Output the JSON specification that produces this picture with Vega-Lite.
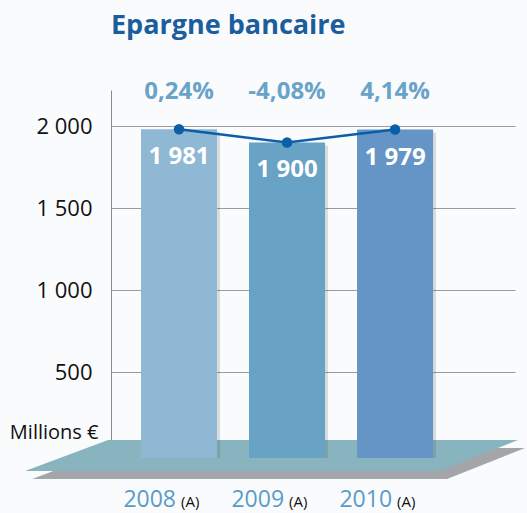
{
  "$schema": "https://vega.github.io/schema/vega-lite/v6.json",
  "width": 404,
  "height": 364,
  "autosize": {"type": "none"},
  "padding": {"left": 111, "top": 90, "right": 12, "bottom": 59},
  "background": "#fafbfd",
  "title": {
    "text": "Epargne bancaire",
    "anchor": "start",
    "frame": "group",
    "font": "Open Sans",
    "fontSize": 27,
    "fontWeight": "bold",
    "color": "#1a5e9e",
    "baseline": "alphabetic",
    "offset": 19
  },
  "config": {
    "view": {"stroke": null},
    "font": "Open Sans"
  },
  "datasets": {
    "bars": [
      {"year": "2008", "value": 1981, "label": "1 981", "pct": "0,24%", "suffix": "(A)"},
      {"year": "2009", "value": 1900, "label": "1 900", "pct": "-4,08%", "suffix": "(A)"},
      {"year": "2010", "value": 1979, "label": "1 979", "pct": "4,14%", "suffix": "(A)"}
    ],
    "floor": [
      {"u": -1.426, "top": -104, "bot": -104},
      {"u": -0.657, "top": 85, "bot": -104},
      {"u": 2.417, "top": 85, "bot": -104},
      {"u": 3.139, "top": 85, "bot": 85}
    ],
    "floorShadow": [
      {"u": -1.361, "top": -153, "bot": -153},
      {"u": -0.592, "top": 36, "bot": -153},
      {"u": 2.482, "top": 36, "bot": -153},
      {"u": 3.204, "top": 36, "bot": 36}
    ]
  },
  "resolve": {"scale": {"x": "independent"}},
  "layer": [
    {
      "layer": [
        {
          "data": {"name": "floorShadow"},
          "mark": {"type": "area", "color": "#a3a5a8", "clip": false},
          "encoding": {
            "x": {"field": "u", "type": "quantitative", "axis": null, "scale": {"domain": [-0.63, 3.111], "nice": false, "zero": false}},
            "y": {
              "field": "top", "type": "quantitative", "title": "Millions €",
              "scale": {"domain": [0, 2220], "nice": false, "zero": false},
              "axis": {
                "values": [500, 1000, 1500, 2000],
                "labelExpr": "replace(format(datum.value, ','), ',', ' ')",
                "labelFont": "Open Sans",
                "labelFontSize": 22,
                "labelColor": "#111111",
                "labelPadding": 19,
                "ticks": false,
                "grid": true,
                "gridColor": "#9a9a9a",
                "gridWidth": 1,
                "domainColor": "#8a8a8a",
                "domainWidth": 1,
                "title": "Millions €",
                "titleAngle": 0,
                "titleAlign": "right",
                "titleBaseline": "middle",
                "titleFont": "Open Sans",
                "titleFontSize": 20,
                "titleFontWeight": "normal",
                "titleColor": "#111111",
                "titleX": -13,
                "titleY": 342
              }
            },
            "y2": {"field": "bot"}
          }
        },
        {
          "data": {"name": "floor"},
          "mark": {"type": "area", "color": "#88b4c0", "clip": false},
          "encoding": {
            "x": {"field": "u", "type": "quantitative", "axis": null, "scale": {"domain": [-0.63, 3.111], "nice": false, "zero": false}},
            "y": {"field": "top", "type": "quantitative", "title": "Millions €"},
            "y2": {"field": "bot"}
          }
        }
      ]
    },
    {
      "data": {"name": "bars"},
      "encoding": {
        "x": {
          "field": "year", "type": "nominal", "axis": null,
          "scale": {"paddingInner": 0.296, "paddingOuter": 0.518, "align": 0.268}
        }
      },
      "layer": [
        {
          "mark": {"type": "bar", "color": "#555555", "opacity": 0.18, "xOffset": 3, "yOffset": 3},
          "encoding": {
            "y": {"field": "value", "type": "quantitative", "title": "Millions €"},
            "y2": {"datum": -25}
          }
        },
        {
          "mark": {"type": "bar"},
          "encoding": {
            "y": {"field": "value", "type": "quantitative", "title": "Millions €"},
            "y2": {"datum": -25},
            "color": {
              "field": "year", "type": "nominal", "legend": null,
              "scale": {"domain": ["2008", "2009", "2010"], "range": ["#8fb8d4", "#68a2c4", "#6595c7"]}
            }
          }
        },
        {
          "mark": {"type": "line", "color": "#0b5ea8", "strokeWidth": 2.5},
          "encoding": {
            "y": {"field": "value", "type": "quantitative", "title": "Millions €"}
          }
        },
        {
          "mark": {"type": "point", "filled": true, "color": "#0b5ea8", "opacity": 1, "size": 110},
          "encoding": {
            "y": {"field": "value", "type": "quantitative", "title": "Millions €"}
          }
        },
        {
          "mark": {"type": "text", "color": "white", "font": "Open Sans", "fontWeight": "bold", "fontSize": 24, "baseline": "middle", "dy": 28},
          "encoding": {
            "y": {"field": "value", "type": "quantitative", "title": "Millions €"},
            "text": {"field": "label"}
          }
        },
        {
          "mark": {"type": "text", "color": "#6aa3c9", "font": "Open Sans", "fontWeight": "bold", "fontSize": 24, "baseline": "alphabetic"},
          "encoding": {
            "y": {"datum": 2165},
            "text": {"field": "pct"}
          }
        },
        {
          "mark": {"type": "text", "color": "#5b9bc9", "font": "Open Sans", "fontSize": 23, "baseline": "alphabetic", "align": "right", "dx": -3},
          "encoding": {
            "y": {"datum": -325},
            "text": {"field": "year"}
          }
        },
        {
          "mark": {"type": "text", "color": "#111111", "font": "Open Sans", "fontSize": 15, "baseline": "alphabetic", "align": "left", "dx": 2},
          "encoding": {
            "y": {"datum": -325},
            "text": {"field": "suffix"}
          }
        }
      ]
    }
  ]
}
